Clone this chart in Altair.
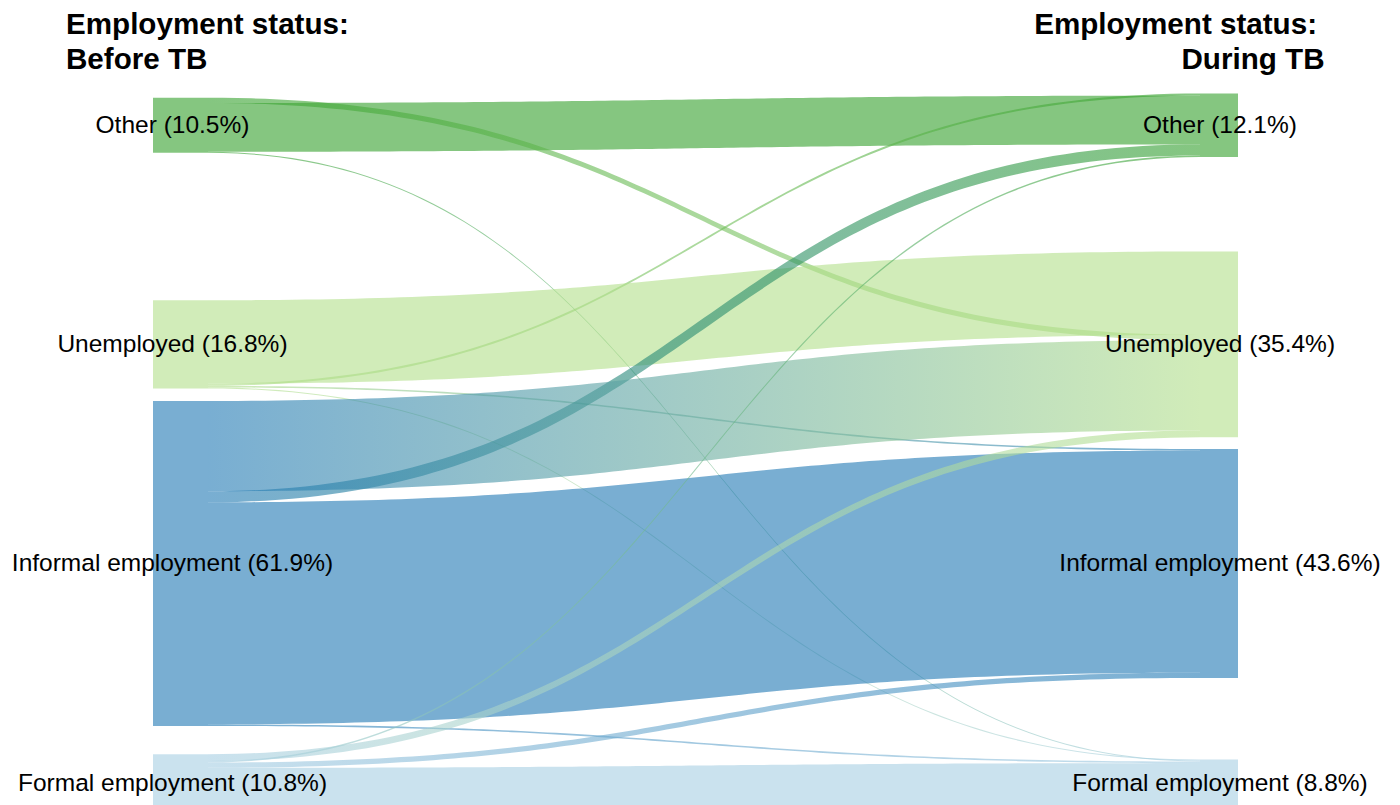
import altair as alt
import numpy as np
import pandas as pd

# ---------------- data ----------------
STATUS = ["Other", "Unemployed", "Informal employment", "Formal employment"]
BEFORE_PCT = [10.5, 16.8, 61.9, 10.8]
DURING_PCT = [12.1, 35.4, 43.6, 8.8]
# flows (percent of all patients): before-status -> during-status
# columns follow STATUS order: Other, Unemployed, Informal, Formal
FROM_OTHER = [9.3, 1.0, 0.0, 0.2]
FROM_UNEMPLOYED = [0.4, 15.9, 0.3, 0.2]
FROM_INFORMAL = [2.1, 17.2, 42.3, 0.3]
FROM_FORMAL = [0.3, 1.3, 1.0, 8.2]
STATUS_COLORS = ["#33a02c", "#b2df8a", "#1f78b4", "#a6cee3"]
TITLE_BEFORE = ["Employment status:", "Before TB"]
TITLE_DURING = ["Employment status:", "During TB"]

FLOWS = [FROM_OTHER, FROM_UNEMPLOYED, FROM_INFORMAL, FROM_FORMAL]
LINK_ORDER = [1, 0, 2, 3]  # stacking order of links inside a node

# ---------------- layout ----------------
W, H = 1384, 800
PX_PER_PCT = 5.25
Y_MAX = H / PX_PER_PCT
SLOT = 41.73          # distance between node centres (in % units)
FIRST = 22.34         # centre of first node (in % units)
X_DOMAIN = [-200 / 992, 1184 / 992]
LEFT_NODE = (-55 / 992, 0.0)
RIGHT_NODE = (1.0, 1 + 38 / 992)
OPACITY = 0.6
FONT = "Liberation Sans"

xs = alt.Scale(domain=X_DOMAIN, nice=False, zero=False)
ys = alt.Scale(domain=[0, Y_MAX], reverse=True, nice=False, zero=False)

left_top = [FIRST + i * SLOT - BEFORE_PCT[i] / 2 for i in range(4)]
right_top = [FIRST + j * SLOT - DURING_PCT[j] / 2 for j in range(4)]

src_y, tgt_y = {}, {}
for i in range(4):
    off = left_top[i]
    for j in LINK_ORDER:
        v = FLOWS[i][j]
        if v > 0:
            src_y[(i, j)] = off
            off += v
for j in range(4):
    off = right_top[j]
    for i in LINK_ORDER:
        v = FLOWS[i][j]
        if v > 0:
            tgt_y[(i, j)] = off
            off += v

# cubic bezier link shape (horizontal tangents at both ends)
t = np.linspace(0, 1, 101)
bx = 1.5 * t - 1.5 * t ** 2 + t ** 3
by = 3 * t ** 2 - 2 * t ** 3

layers = []
for i in range(4):
    for j in range(4):
        v = FLOWS[i][j]
        if v <= 0:
            continue
        y0, y1 = src_y[(i, j)], tgt_y[(i, j)]
        top = y0 + (y1 - y0) * by
        df = pd.DataFrame({"x": bx, "top": top, "bottom": top + v,
                           "flow": f"{STATUS[i]} -> {STATUS[j]}"})
        if i == j:
            col = STATUS_COLORS[i]
        else:
            col = alt.Gradient(
                gradient="linear",
                stops=[alt.GradientStop(color=STATUS_COLORS[i], offset=0),
                       alt.GradientStop(color=STATUS_COLORS[j], offset=1)],
                x1=0, x2=1, y1=0, y2=0)
        layers.append(
            alt.Chart(df).mark_area(color=col, opacity=OPACITY, interpolate="linear").encode(
                x=alt.X("x:Q", scale=xs, axis=None),
                y=alt.Y("top:Q", scale=ys, axis=None),
                y2="bottom:Q",
            )
        )

# nodes
nodes = pd.DataFrame({
    "x": [LEFT_NODE[0]] * 4 + [RIGHT_NODE[0]] * 4,
    "x2": [LEFT_NODE[1]] * 4 + [RIGHT_NODE[1]] * 4,
    "y": left_top + right_top,
    "y2": [left_top[k] + BEFORE_PCT[k] for k in range(4)] + [right_top[k] + DURING_PCT[k] for k in range(4)],
    "color": STATUS_COLORS * 2,
})
layers.append(
    alt.Chart(nodes).mark_rect(opacity=OPACITY).encode(
        x=alt.X("x:Q", scale=xs, axis=None), x2="x2:Q",
        y=alt.Y("y:Q", scale=ys, axis=None), y2="y2:Q",
        color=alt.Color("color:N", scale=None),
    )
)

# node labels
left_lab = pd.DataFrame({
    "x": [(LEFT_NODE[0] + LEFT_NODE[1]) / 2] * 4,
    "y": [FIRST + k * SLOT for k in range(4)],
    "text": [f"{s} ({p}%)" for s, p in zip(STATUS, BEFORE_PCT)],
})
right_lab = pd.DataFrame({
    "x": [(RIGHT_NODE[0] + RIGHT_NODE[1]) / 2] * 4,
    "y": [FIRST + k * SLOT for k in range(4)],
    "text": [f"{s} ({p}%)" for s, p in zip(STATUS, DURING_PCT)],
})
for df, dx in ((left_lab, -8), (right_lab, 1)):
    layers.append(
        alt.Chart(df).mark_text(font=FONT, fontSize=24.5, color="#000000", align="center",
                                baseline="middle", dx=dx, dy=1).encode(
            x=alt.X("x:Q", scale=xs, axis=None),
            y=alt.Y("y:Q", scale=ys, axis=None),
            text="text:N",
        )
    )

# stage headers
def header(txt, x, y, align):
    return alt.Chart(pd.DataFrame({"a": [0]})).mark_text(
        text=txt, font=FONT, fontSize=29.6, fontWeight="bold", color="#000000",
        align=align, baseline="alphabetic").encode(x=alt.value(x), y=alt.value(y))

layers += [
    header(TITLE_BEFORE[0], 58, 26, "left"),
    header(TITLE_BEFORE[1], 58, 61, "left"),
    header(TITLE_DURING[0], 1309, 26, "right"),
    header(TITLE_DURING[1], 1316.5, 61, "right"),
]

chart = alt.layer(*layers).properties(
    width=W, height=H, padding=0, autosize=alt.AutoSizeParams(type="none"),
    background="white",
).configure_view(stroke=None)

chart.save("out.html", embed_options={"renderer": "svg", "actions": False})
